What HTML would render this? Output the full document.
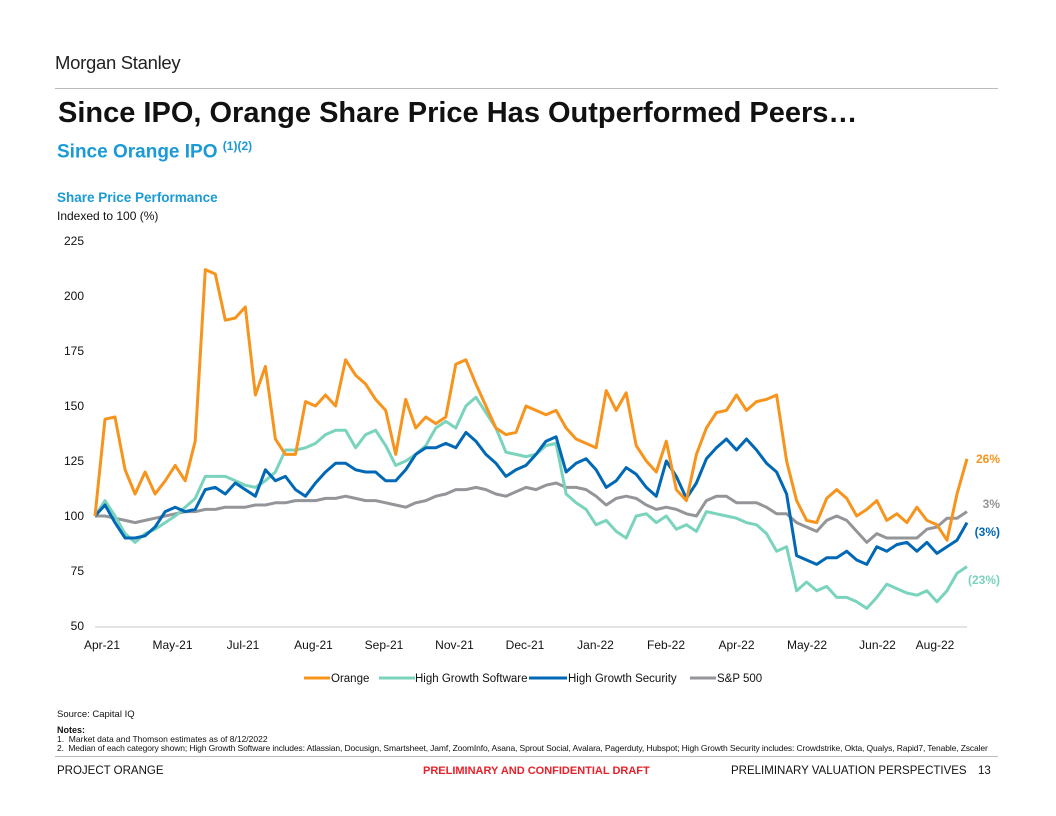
<!DOCTYPE html>
<html><head><meta charset="utf-8">
<style>
body{margin:0;background:#fff;font-family:"Liberation Sans",Arial,sans-serif;}
#page{position:relative;width:1056px;height:816px;overflow:hidden;background:#fff;}
.a{position:absolute;white-space:nowrap;}
</style></head>
<body>
<div id="page">
<div class="a" style="left:55px;top:52px;font-size:18.5px;color:#222;letter-spacing:-0.3px;">Morgan Stanley</div>
<div class="a" style="left:55px;top:88px;width:943px;height:1px;background:#bbb;"></div>
<div class="a" style="left:58px;top:97px;font-size:29px;font-weight:bold;color:#111;">Since IPO, Orange Share Price Has Outperformed Peers…</div>
<div class="a" style="left:57px;top:139px;font-size:19px;font-weight:bold;color:#1a9ad6;">Since Orange IPO <sup style="font-size:12px;">(1)(2)</sup></div>
<div class="a" style="left:57px;top:190px;font-size:13.5px;font-weight:bold;color:#1a9ad6;">Share Price Performance</div>
<div class="a" style="left:57px;top:209px;font-size:12px;color:#111;">Indexed to 100 (%)</div>
<svg id="chart" style="position:absolute;left:0;top:0;" width="1056" height="700"></svg>
<div class="a" style="left:57px;top:709px;font-size:9.5px;color:#111;">Source: Capital IQ</div>
<div class="a" style="left:57px;top:725px;font-size:9px;font-weight:bold;color:#111;">Notes:</div>
<div class="a" style="left:57px;top:734px;font-size:8.5px;color:#111;">1.&nbsp; Market data and Thomson estimates as of 8/12/2022</div>
<div class="a" style="left:57px;top:743px;font-size:8.5px;color:#111;letter-spacing:-0.12px;">2.&nbsp; Median of each category shown; High Growth Software includes: Atlassian, Docusign, Smartsheet, Jamf, ZoomInfo, Asana, Sprout Social, Avalara, Pagerduty, Hubspot; High Growth Security includes: Crowdstrike, Okta, Qualys, Rapid7, Tenable, Zscaler</div>
<div class="a" style="left:55px;top:756px;width:943px;height:1px;background:#bbb;"></div>
<div class="a" style="left:57px;top:765px;font-size:11.5px;color:#111;">PROJECT ORANGE</div>
<div class="a" style="left:423px;top:765px;font-size:11px;font-weight:bold;color:#e8202a;">PRELIMINARY AND CONFIDENTIAL DRAFT</div>
<div class="a" style="left:731px;top:765px;font-size:11.5px;color:#111;">PRELIMINARY VALUATION PERSPECTIVES</div>
<div class="a" style="left:978px;top:765px;font-size:11.5px;color:#111;">13</div>
</div>
<script>
const yTicks=[50,75,100,125,150,175,200,225];
const xTickLabels=["Apr-21","May-21","Jul-21","Aug-21","Sep-21","Nov-21","Dec-21","Jan-22","Feb-22","Apr-22","May-22","Jun-22","Aug-22"];
const orange=[100,144,145,121,110,120,110,116,123,116,134,212,210,189,190,195,155,168,135,128,128,152,150,155,150,171,164,160,153,148,128,153,140,145,142,145,169,171,160,150,140,137,138,150,148,146,148,140,135,133,131,157,148,156,132,125,120,134,112,107,128,140,147,148,155,148,152,153,155,125,107,98,97,108,112,108,100,103,107,98,101,97,104,98,96,89,110,126];
const software=[100,107,100,92,88,92,94,97,100,104,108,118,118,118,116,114,113,116,120,130,130,131,133,137,139,139,131,137,139,132,123,125,128,132,140,143,140,150,154,147,140,129,128,127,128,132,133,110,106,103,96,98,93,90,100,101,97,100,94,96,93,102,101,100,99,97,96,92,84,86,66,70,66,68,63,63,61,58,63,69,67,65,64,66,61,66,74,77];
const security=[100,105,97,90,90,91,95,102,104,102,103,112,113,110,115,112,109,121,116,118,112,109,115,120,124,124,121,120,120,116,116,121,128,131,131,133,131,138,134,128,124,118,121,123,128,134,136,120,124,126,121,113,116,122,119,113,109,125,118,108,115,126,131,135,130,135,130,124,120,110,82,80,78,81,81,84,80,78,86,84,87,88,84,88,83,86,89,97];
const sp500=[100,100,99,98,97,98,99,100,101,102,102,103,103,104,104,104,105,105,106,106,107,107,107,108,108,109,108,107,107,106,105,104,106,107,109,110,112,112,113,112,110,109,111,113,112,114,115,113,113,112,109,105,108,109,108,105,103,104,103,101,100,107,109,109,106,106,106,104,101,101,97,95,93,98,100,98,93,88,92,90,90,90,90,94,95,99,99,102];
const seriesNames=["Orange","High Growth Software","High Growth Security","S&P 500"];
const endLabels=["26%","(23%)","(3%)","3%"];

const NS="http://www.w3.org/2000/svg";
const svg=document.getElementById('chart');
const X0=95,X1=967,Y50=626,Y225=241;
const yS=v=>Y50-(v-50)*(Y50-Y225)/175;
const xS=(i,n)=>X0+i*(X1-X0)/(n-1);
function mk(t,a){const e=document.createElementNS(NS,t);for(const k in a)e.setAttribute(k,a[k]);svg.appendChild(e);return e;}
function txt(x,y,s,a){const e=mk('text',Object.assign({x:x,y:y,'font-family':'Liberation Sans, Arial, sans-serif'},a));e.textContent=s;return e;}

const axis=mk('line',{x1:X0,x2:X1,y1:Y50+1,y2:Y50+1,stroke:'#c8c8c8','stroke-width':1});


yTicks.forEach(v=>{
  const t=txt(84,yS(v)+4,String(v),{'font-size':12,'text-anchor':'end',fill:'#111'});
  
  
});
xTickLabels.forEach((l,i)=>{
  const x=(i===xTickLabels.length-1)?935:102+i*70.5;
  const t=txt(x,649,l,{'font-size':12,'text-anchor':'middle',fill:'#111'});
  
  
});
const colors=['#f7941d','#7ad3bd','#0068b5','#939598'];
const data=[orange,software,security,sp500];
const order=[3,1,2,0];
order.forEach(k=>{
  const d=data[k];
  const p=d.map((v,i)=>(i?'L':'M')+xS(i,d.length).toFixed(1)+','+yS(v).toFixed(1)).join('');
  const e=mk('path',{d:p,fill:'none',stroke:colors[k],'stroke-width':3,'stroke-linejoin':'round'});
  
  
});
const labelY=[yS(orange[orange.length-1])+4,584,536,508];
endLabels.forEach((l,k)=>{
  const t=txt(1000,labelY[k],l,{'font-size':12,'font-weight':'bold','text-anchor':'end',fill:colors[k]});
  
  
});
const legSw=[[304,330],[379,415],[529,567],[690,716]];
const legTx=[331,415,568,717];
seriesNames.forEach((n,k)=>{
  const l=mk('line',{x1:legSw[k][0],x2:legSw[k][1],y1:678,y2:678,stroke:colors[k],'stroke-width':3});
  
  
  const t=txt(legTx[k],682,n,{'font-size':11.5,fill:'#111'});
  
  
});
</script>
</body></html>
